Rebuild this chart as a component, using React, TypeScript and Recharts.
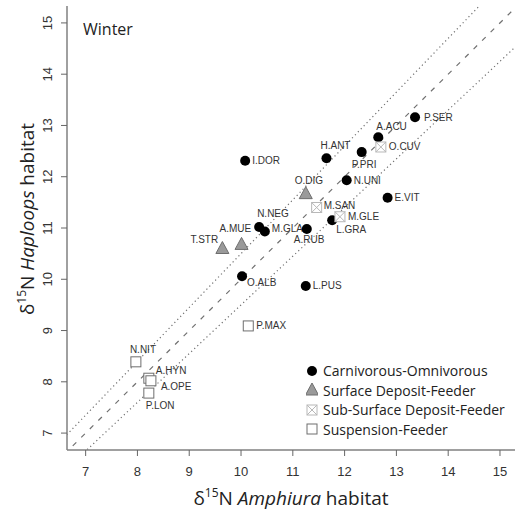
import { ScatterChart, Scatter, XAxis, YAxis, ReferenceLine, Legend } from "recharts";

const carnivorous = [
  { id: "P.SER", x: 13.36, y: 13.16 },
  { id: "A.ACU", x: 12.65, y: 12.77 },
  { id: "P.PRI", x: 12.33, y: 12.48 },
  { id: "H.ANT", x: 11.65, y: 12.36 },
  { id: "I.DOR", x: 10.08, y: 12.31 },
  { id: "N.UNI", x: 12.04, y: 11.93 },
  { id: "E.VIT", x: 12.83, y: 11.59 },
  { id: "L.GRA", x: 11.76, y: 11.15 },
  { id: "N.NEG", x: 10.35, y: 11.02 },
  { id: "M.GLA", x: 10.46, y: 10.93 },
  { id: "A.RUB", x: 11.27, y: 10.98 },
  { id: "O.ALB", x: 10.02, y: 10.06 },
  { id: "L.PUS", x: 11.25, y: 9.87 },
];

const surfaceDeposit = [
  { id: "O.DIG", x: 11.25, y: 11.67 },
  { id: "A.MUE", x: 10.01, y: 10.68 },
  { id: "T.STR", x: 9.64, y: 10.6 },
];

const subSurfaceDeposit = [
  { id: "O.CUV", x: 12.7, y: 12.58 },
  { id: "M.SAN", x: 11.46, y: 11.4 },
  { id: "M.GLE", x: 11.91, y: 11.22 },
];

const suspension = [
  { id: "P.MAX", x: 10.14, y: 9.09 },
  { id: "N.NIT", x: 7.97, y: 8.39 },
  { id: "A.HYN", x: 8.22, y: 8.07 },
  { id: "A.OPE", x: 8.26, y: 8.02 },
  { id: "P.LON", x: 8.22, y: 7.78 },
];

const ticks = [7, 8, 9, 10, 11, 12, 13, 14, 15];

// 1:1 line and +/-5% lines
const guideSlopes = [1, 1.05, 0.95];

// label placement: dx, dy from the point, text anchor
const labelPos: Record<string, [number, number, "start" | "middle" | "end"]> = {
  "P.SER": [9, 0, "start"],
  "A.ACU": [-2, -11, "start"],
  "O.CUV": [8, 0, "start"],
  "P.PRI": [-10, 12, "start"],
  "H.ANT": [-6, -13, "start"],
  "I.DOR": [7, 0, "start"],
  "N.UNI": [7, 0, "start"],
  "E.VIT": [7, 0, "start"],
  "O.DIG": [-11, -13, "start"],
  "M.SAN": [7, -2, "start"],
  "M.GLE": [8, 0, "start"],
  "L.GRA": [4, 9, "start"],
  "N.NEG": [-2, -13, "start"],
  "M.GLA": [7, -3, "start"],
  "A.RUB": [-13, 10, "start"],
  "A.MUE": [-22, -16, "start"],
  "T.STR": [-32, -9, "start"],
  "O.ALB": [5, 6, "start"],
  "L.PUS": [7, 0, "start"],
  "P.MAX": [8, 0, "start"],
  "N.NIT": [-6, -12, "start"],
  "A.HYN": [7, -8, "start"],
  "A.OPE": [10, 6, "start"],
  "P.LON": [-3, 12, "start"],
};

const TICK_FONT = "'Liberation Sans', Arial, sans-serif";
const TEXT_FONT = "'Open Sans', 'Noto Sans', sans-serif";

type Kind = "dot" | "tri" | "xsq" | "sq";

function Marker({ kind, cx, cy }: { kind: Kind; cx: number; cy: number }) {
  if (kind === "dot") return <circle cx={cx} cy={cy} r={5} fill="#000" />;
  if (kind === "tri")
    return (
      <polygon
        points={`${cx - 6.5},${cy + 5} ${cx + 6.5},${cy + 5} ${cx},${cy - 7}`}
        fill="#9a9a9a"
        stroke="#6e6e6e"
        strokeWidth={1}
      />
    );
  if (kind === "xsq")
    return (
      <g stroke="#b8b8b8" strokeWidth={1} fill="#fff">
        <rect x={cx - 5} y={cy - 5} width={10} height={10} />
        <line x1={cx - 5} y1={cy - 5} x2={cx + 5} y2={cy + 5} />
        <line x1={cx - 5} y1={cy + 5} x2={cx + 5} y2={cy - 5} />
      </g>
    );
  return <rect x={cx - 5} y={cy - 5} width={10} height={10} fill="#fff" stroke="#6e6e6e" strokeWidth={1} />;
}

const makeShape = (kind: Kind) => (props: any) => {
  const { cx, cy, payload } = props;
  const [dx, dy, anchor] = labelPos[payload.id] ?? [8, 0, "start"];
  return (
    <g>
      <Marker kind={kind} cx={cx} cy={cy} />
      <text
        x={cx + dx}
        y={cy + dy}
        dy="0.35em"
        textAnchor={anchor}
        fontSize={10}
        fontFamily={TICK_FONT}
        fill="#333"
      >
        {payload.id}
      </text>
    </g>
  );
};

const groups: { name: string; kind: Kind; data: typeof carnivorous }[] = [
  { name: "Carnivorous-Omnivorous", kind: "dot", data: carnivorous },
  { name: "Surface Deposit-Feeder", kind: "tri", data: surfaceDeposit },
  { name: "Sub-Surface Deposit-Feeder", kind: "xsq", data: subSurfaceDeposit },
  { name: "Suspension-Feeder", kind: "sq", data: suspension },
];

const YTick = (props: any) => {
  const { x, y, payload } = props;
  return (
    <text
      x={x}
      y={y}
      transform={`rotate(-90 ${x} ${y})`}
      textAnchor="middle"
      fontSize={13}
      fontFamily={TICK_FONT}
      fill="#333"
    >
      {payload.value}
    </text>
  );
};

const renderLegend = () => (
  <div style={{ fontFamily: TEXT_FONT, fontSize: 14, color: "#222", lineHeight: "19.5px" }}>
    {groups.map((g) => (
      <div key={g.name} style={{ display: "flex", alignItems: "center", whiteSpace: "nowrap" }}>
        <svg width={12} height={14} style={{ marginRight: 5 }}>
          <Marker kind={g.kind} cx={6} cy={7} />
        </svg>
        {g.name}
      </div>
    ))}
  </div>
);

export default function App() {
  return (
    <div style={{ position: "absolute", left: 0, top: 0, width: 515, height: 515, background: "#fff" }}>
      <ScatterChart width={515} height={515} margin={{ top: 6, right: 0, bottom: 0, left: 0 }}>
        <XAxis
          type="number"
          dataKey="x"
          domain={[6.64, 15.29]}
          ticks={ticks}
          allowDataOverflow
          height={65}
          tickSize={6}
          tickMargin={11}
          axisLine={{ stroke: "#808080", strokeWidth: 1.5 }}
          tickLine={{ stroke: "#666" }}
          tick={{ fontSize: 13, fontFamily: TICK_FONT, fill: "#333" }}
          label={{
            content: () => (
              <text x={291} y={505} textAnchor="middle" fontFamily={TEXT_FONT} fontSize={19} fill="#222">
                δ<tspan dy={-8} fontSize={12}>15</tspan>
                <tspan dy={8}>N </tspan>
                <tspan fontStyle="italic">Amphiura</tspan> habitat
              </text>
            ),
          }}
        />
        <YAxis
          type="number"
          dataKey="y"
          domain={[6.67, 15.33]}
          ticks={ticks}
          allowDataOverflow
          width={67}
          tickSize={6}
          tickMargin={9}
          axisLine={{ stroke: "#808080", strokeWidth: 1.5 }}
          tickLine={{ stroke: "#666" }}
          tick={<YTick />}
          label={{
            content: () => (
              <text
                x={34}
                y={219}
                transform="rotate(-90 34 219)"
                textAnchor="middle"
                fontFamily={TEXT_FONT}
                fontSize={19}
                fill="#222"
              >
                δ<tspan dy={-8} fontSize={12}>15</tspan>
                <tspan dy={8}>N </tspan>
                <tspan fontStyle="italic">Haploops</tspan> habitat
              </text>
            ),
          }}
        />
        <XAxis
          xAxisId="top"
          orientation="top"
          type="number"
          domain={[6.64, 15.29]}
          height={0}
          tick={false}
          tickLine={false}
          axisLine={{ stroke: "#808080", strokeWidth: 1.5 }}
        />
        {guideSlopes.map((s) => (
          <ReferenceLine
            key={s}
            segment={[
              { x: 0, y: 0 },
              { x: 20, y: 20 * s },
            ]}
            ifOverflow="hidden"
            stroke="#707070"
            strokeWidth={1.2}
            strokeDasharray={s === 1 ? "5 7" : "1.2 3"}
          />
        ))}
        {groups.map((g) => (
          <Scatter
            key={g.name}
            name={g.name}
            data={g.data}
            shape={makeShape(g.kind)}
            isAnimationActive={false}
          />
        ))}
        <Legend
          layout="vertical"
          align="center"
          verticalAlign="middle"
          content={renderLegend}
          wrapperStyle={{ left: 306, top: 361, width: 210 }}
        />
      </ScatterChart>
      <div
        style={{
          position: "absolute",
          left: 83,
          top: 18,
          fontFamily: TEXT_FONT,
          fontSize: 16,
          color: "#222",
        }}
      >
        Winter
      </div>
    </div>
  );
}
